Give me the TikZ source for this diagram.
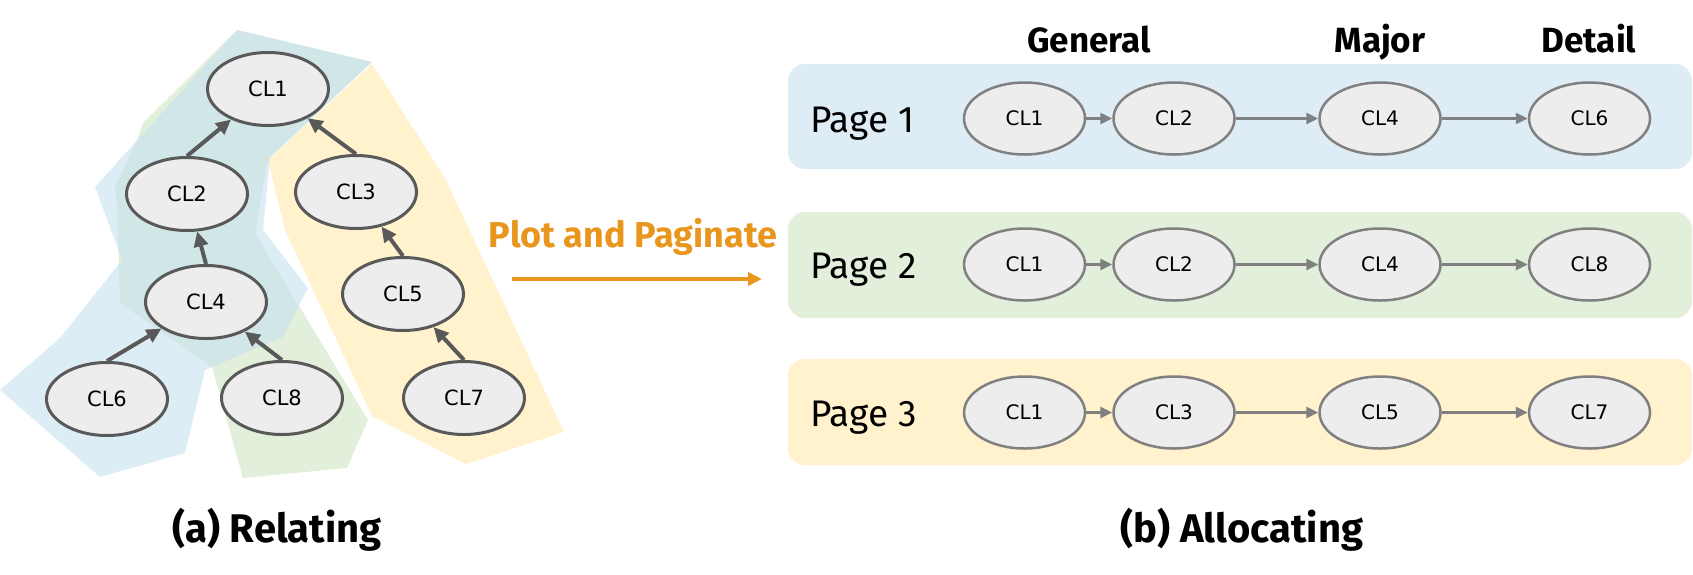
\documentclass[tikz,border=0pt]{standalone}
\usepackage{fontspec}
\setmainfont{Fira Sans}
\newfontfamily\nodefont{DejaVu Sans}
\usetikzlibrary{arrows.meta,shapes.geometric}
\definecolor{lgray}{RGB}{89,89,89}
\definecolor{rgray}{RGB}{128,128,128}
\definecolor{nodefill}{RGB}{237,237,237}
\definecolor{pblue}{RGB}{222,237,245}
\definecolor{pgreen}{RGB}{226,239,218}
\definecolor{pyellow}{RGB}{255,242,204}
\definecolor{polyB}{RGB}{198,225,240}
\definecolor{polyG}{RGB}{197,223,181}
\definecolor{polyY}{RGB}{255,229,153}
\definecolor{orangeT}{RGB}{233,150,30}
\begin{document}
\begin{tikzpicture}[x=1pt,y=-1pt,
  lnode/.style={ellipse, draw=lgray, fill=nodefill, line width=3pt, minimum width=121pt, minimum height=73pt, inner sep=0pt, font=\nodefont\fontsize{21}{25}\selectfont},
  rnode/.style={ellipse, draw=rgray, fill=nodefill, line width=2.5pt, minimum width=121pt, minimum height=72pt, inner sep=0pt, font=\nodefont\fontsize{20}{24}\selectfont},
  larrow/.style={draw=lgray, line width=4pt, -{Triangle[length=15pt,width=14pt]}},
  rarrow/.style={draw=rgray, line width=3pt, -{Triangle[length=12pt,width=11pt]}},
  pagebox/.style={rounded corners=17pt},
  polyb/.style={fill=polyB, fill opacity=0.6},
  polyg/.style={fill=polyG, fill opacity=0.5},
  polyy/.style={fill=polyY, fill opacity=0.5},
  pagelabel/.style={anchor=base west, inner sep=0pt, font=\fontsize{37}{44}\selectfont},
  heading/.style={anchor=base, inner sep=0pt, font=\fontsize{35}{42}\selectfont\bfseries},
  caption/.style={anchor=base, inner sep=0pt, font=\fontsize{40}{48}\selectfont\bfseries}
]
\useasboundingbox (0,0) rectangle (1693,574);

% ---- left: translucent groups
\fill[polyy] (372,64) -- (445,178) -- (564,432) -- (466,464) -- (372,416) -- (285,230) -- (268,160) -- cycle;
\fill[polyg] (237,30) -- (372,62) -- (268,158) -- (255,233) -- (368,420) -- (347,468) -- (243,478) -- (212,367) -- (120,303) -- (117,200) -- (115,187) -- (137,140) -- (143,123) -- cycle;
\fill[polyb] (237,30) -- (372,62) -- (270,158) -- (263,230) -- (308,288) -- (283,337) -- (205,370) -- (185,453) -- (100,477) -- (0,390) -- (60,338) -- (122,260) -- (100,200) -- (95,187) -- cycle;

% ---- left: tree
\node[lnode] (L1) at (268,89) {CL1};
\node[lnode] (L2) at (187,194) {CL2};
\node[lnode] (L3) at (356,192) {CL3};
\node[lnode] (L4) at (206,302) {CL4};
\node[lnode] (L5) at (403,294) {CL5};
\node[lnode] (L6) at (107,399) {CL6};
\node[lnode] (L8) at (282,398) {CL8};
\node[lnode] (L7) at (464,398) {CL7};
\draw[larrow] (L2.north) -- (L1);
\draw[larrow] (L3.north) -- (L1);
\draw[larrow] (L4.north) -- (L2);
\draw[larrow] (L6.north) -- (L4);
\draw[larrow] (L8.north) -- (L4);
\draw[larrow] (L5.north) -- (L3);
\draw[larrow] (L7.north) -- (L5);

% ---- middle
\node[anchor=base, inner sep=0pt, text=orangeT, font=\fontsize{36}{43}\selectfont\bfseries] (plot) at (633,247) {Plot and Paginate};
\coordinate (aS) at (512,279);
\coordinate (aE) at (762,279);
\draw[orangeT, line width=4pt, -{Triangle[length=14pt,width=13pt]}] (aS) -- (aE);

% ---- right: pages
\fill[pagebox, pblue] (788,64) rectangle (1692,169);
\fill[pagebox, pgreen] (788,212) rectangle (1692,318);
\fill[pagebox, pyellow] (788,359) rectangle (1692,465);

\node[heading] (hG) at (1089,52) {General};
\node[heading] (hM) at (1380,52) {Major};
\node[heading] (hD) at (1589,52) {Detail};

\node[pagelabel] (pg1) at (810,132) {Page 1};
\node[pagelabel] (pg2) at (810,278) {Page 2};
\node[pagelabel] (pg3) at (810,426) {Page 3};

\node[rnode] (a1) at (1024.5,118.5) {CL1};
\node[rnode] (a2) at (1174,118.5) {CL2};
\node[rnode] (a3) at (1380,118.5) {CL4};
\node[rnode] (a4) at (1589.5,118.5) {CL6};
\draw[rarrow] (a1) -- (a2);
\draw[rarrow] (a2) -- (a3);
\draw[rarrow] (a3) -- (a4);

\node[rnode] (b1) at (1024.5,264.5) {CL1};
\node[rnode] (b2) at (1174,264.5) {CL2};
\node[rnode] (b3) at (1380,264.5) {CL4};
\node[rnode] (b4) at (1589.5,264.5) {CL8};
\draw[rarrow] (b1) -- (b2);
\draw[rarrow] (b2) -- (b3);
\draw[rarrow] (b3) -- (b4);

\node[rnode] (c1) at (1024.5,412.5) {CL1};
\node[rnode] (c2) at (1174,412.5) {CL3};
\node[rnode] (c3) at (1380,412.5) {CL5};
\node[rnode] (c4) at (1589.5,412.5) {CL7};
\draw[rarrow] (c1) -- (c2);
\draw[rarrow] (c2) -- (c3);
\draw[rarrow] (c3) -- (c4);

% ---- captions
\node[caption] (capA) at (277,542) {(a) Relating};
\node[caption] (capB) at (1242,542) {(b) Allocating};
\end{tikzpicture}
\end{document}
